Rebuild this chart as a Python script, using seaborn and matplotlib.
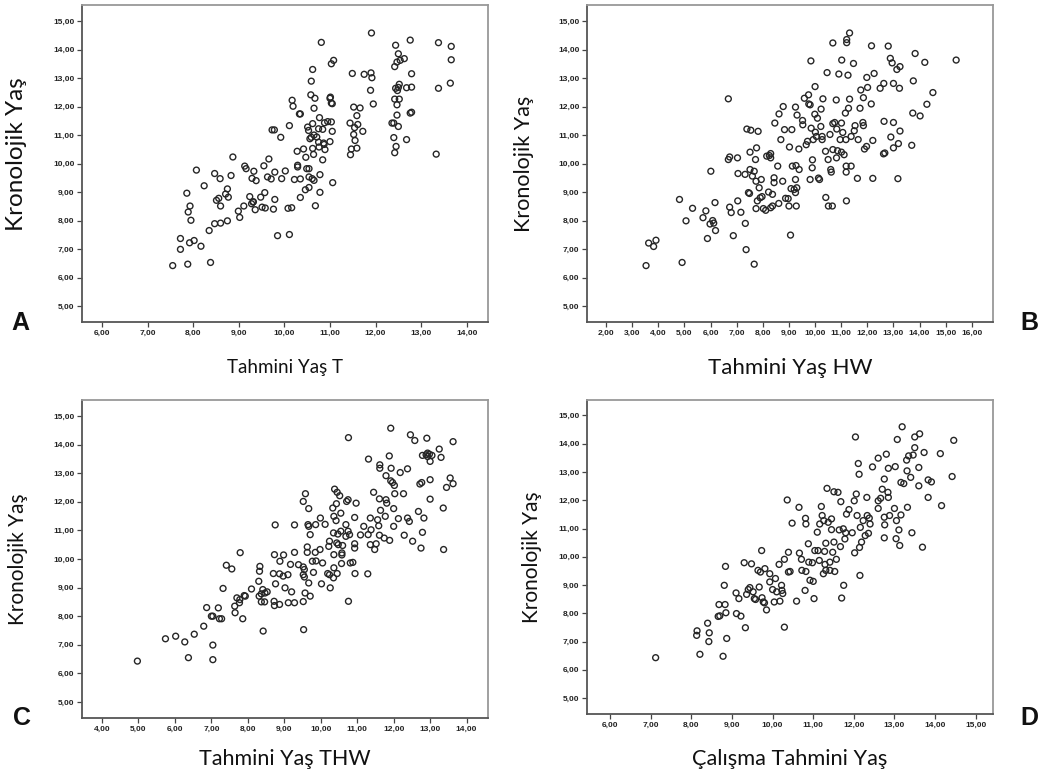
import matplotlib

matplotlib.use("Agg")

import matplotlib.pyplot as plt
import numpy as np
import pandas as pd
import seaborn as sns
from matplotlib.ticker import FuncFormatter, MultipleLocator

# --- panel A: Tahmini Yaş T vs Kronolojik Yaş ---
a_x = [7.55, 7.88, 8.38, 7.72, 7.72, 7.92, 8.02, 8.17, 8.35, 7.95, 7.89, 7.93, 7.86, 8.07,
       8.24, 8.47, 8.59, 8.83, 8.87, 8.51, 8.56, 8.60, 8.47, 8.60, 8.75, 8.75, 8.71, 8.77,
       8.99, 9.02, 9.11, 9.13, 9.16, 9.24, 9.28, 9.33, 9.29, 9.38, 9.32, 9.36, 9.48, 9.57,
       9.51, 9.58, 9.55, 9.66, 9.63, 9.71, 9.79, 10.02, 9.94, 9.79, 9.76, 9.85, 10.11, 10.08,
       10.16, 9.73, 9.78, 9.92, 10.11, 10.17, 10.19, 10.33, 10.35, 10.28, 10.22, 10.35, 10.35,
       10.29, 10.29, 10.42, 10.47, 10.49, 10.54, 10.51, 10.53, 10.56, 10.46, 10.54, 10.54,
       10.61, 10.59, 10.59, 10.62, 10.58, 10.67, 10.65, 10.62, 10.65, 10.62, 10.64, 10.65,
       10.68, 10.75, 10.71, 10.75, 10.76, 10.77, 10.81, 10.78, 10.78, 10.84, 10.86, 10.84,
       10.87, 10.88, 10.95, 11.00, 11.01, 11.03, 11.05, 11.03, 11.08, 11.03, 11.05, 11.00,
       11.06, 10.89, 9.31, 11.49, 11.52, 11.66, 11.59, 11.44, 11.61, 11.54, 11.72, 11.52,
       11.55, 11.47, 11.59, 11.45, 11.75, 11.90, 11.92, 11.91, 11.89, 11.95, 12.44, 12.76,
       12.50, 12.63, 12.54, 12.47, 12.42, 12.79, 12.52, 12.50, 12.44, 12.68, 12.79, 12.48,
       12.42, 12.52, 12.47, 12.76, 12.79, 12.47, 12.36, 12.40, 12.50, 12.40, 12.45, 12.68,
       12.42, 13.38, 13.66, 13.66, 13.64, 13.38, 13.33]
a_y = [6.42, 6.47, 6.53, 7.37, 6.99, 7.22, 7.30, 7.10, 7.65, 8.01, 8.30, 8.51, 8.96, 9.77,
       9.22, 9.65, 9.47, 9.58, 10.23, 8.71, 8.78, 8.51, 7.89, 7.91, 7.99, 9.11, 8.93, 8.82,
       8.33, 8.11, 8.51, 9.91, 9.82, 8.84, 8.59, 9.73, 9.48, 9.40, 8.66, 8.38, 8.82, 8.98,
       8.47, 8.44, 9.92, 10.16, 9.53, 9.46, 9.70, 9.74, 9.47, 8.74, 8.40, 7.47, 7.51, 8.43,
       8.45, 11.18, 11.18, 10.92, 11.33, 12.22, 12.01, 11.74, 11.74, 10.43, 9.44, 9.46, 8.81,
       9.94, 9.88, 10.51, 10.22, 9.82, 9.82, 11.28, 11.16, 10.87, 9.08, 9.16, 9.53,
       9.47, 10.92, 12.89, 13.30, 12.41, 12.29, 11.94, 11.40, 11.00, 10.53, 10.32, 9.41,
       8.52, 11.22, 10.93, 10.75, 10.58, 11.61, 14.25, 9.61, 8.99, 11.20, 10.72, 10.13,
       10.67, 11.43, 11.47, 12.29, 12.33, 12.12, 12.10, 13.50, 13.62, 11.46, 11.13, 10.77,
       9.33, 10.49, 8.65, 13.16, 11.98, 11.95, 11.68, 11.42, 11.37, 11.26, 11.13, 11.02,
       10.81, 10.51, 10.54, 10.31, 13.13, 13.18, 13.01, 14.58, 12.57, 12.09, 14.15, 14.33,
       13.85, 13.68, 13.62, 13.56, 13.40, 13.15, 12.78, 12.67, 12.64, 12.66, 12.68, 12.56,
       12.26, 12.26, 12.06, 11.77, 11.80, 11.70, 11.42, 11.42, 11.30, 10.91, 10.60, 10.84,
       10.38, 14.24, 14.11, 13.64, 12.82, 12.64, 10.33]

# --- panel B: Tahmini Yaş HW ---
b_x = [3.53, 3.63, 3.82, 3.91, 4.81, 4.91, 5.06, 5.31, 5.71, 5.82, 5.88, 5.98, 6.08, 6.12,
       6.19, 6.17, 6.01, 6.68, 6.68, 6.73, 6.73, 6.79, 6.87, 7.03, 7.05, 7.04, 7.16, 7.32,
       7.33, 7.36, 7.39, 7.54, 7.51, 7.45, 7.49, 7.51, 7.60, 7.67, 7.72, 7.76, 7.82, 7.74,
       7.86, 7.94, 7.79, 7.90, 7.97, 7.74, 8.02, 8.11, 7.67, 8.15, 8.25, 8.30, 8.30, 8.22,
       8.37, 8.30, 8.37, 8.43, 8.43, 8.46, 8.57, 8.62, 8.61, 8.69, 8.78, 8.83, 8.76, 8.87,
       8.97, 9.02, 9.11, 9.00, 9.06, 9.08, 9.13, 9.20, 9.25, 9.30, 9.25, 9.25, 9.31, 9.27,
       9.38, 9.39, 9.28, 9.52, 9.53, 9.59, 9.66, 9.71, 9.75, 9.76, 9.81, 9.84, 9.85, 9.81,
       9.89, 9.90, 9.93, 10.00, 9.99, 10.01, 10.09, 10.05, 10.13, 10.17, 10.22, 10.23, 10.27,
       10.27, 10.30, 10.40, 10.41, 10.46, 10.50, 10.51, 10.57, 10.60, 10.62, 10.66, 10.68,
       10.68, 10.75, 10.68, 10.81, 10.83, 10.82, 10.86, 10.91, 10.96, 11.02, 11.01, 11.06,
       11.01, 11.11, 11.16, 11.18, 11.19, 11.19, 11.20, 11.21, 11.21, 11.32, 11.26, 11.28,
       11.32, 11.38, 11.38, 11.47, 11.50, 11.53, 11.62, 11.65, 11.72, 11.75, 11.83, 11.85,
       11.85, 11.89, 11.97, 11.98, 12.01, 12.15, 12.16, 12.21, 12.21, 12.26, 12.49, 12.63,
       12.64, 12.67, 12.62, 12.80, 12.88, 12.95, 13.00, 13.00, 12.90, 13.00, 13.13, 13.25,
       13.23, 13.25, 13.19, 13.17, 13.70, 13.74, 13.76, 13.83, 14.02, 14.20, 14.28, 14.51,
       15.40]
b_y = [6.42, 7.21, 7.09, 7.31, 8.74, 6.53, 7.99, 8.43, 8.10, 8.34, 7.37, 7.88, 8.00, 7.91,
       7.65, 8.63, 9.73, 12.27, 10.14, 10.23, 8.47, 8.28, 7.47, 10.20, 9.65, 8.69, 8.29, 9.62,
       7.90, 6.98, 11.21, 11.17, 10.40, 8.98, 8.95, 9.79, 9.56, 9.73, 10.14, 10.55, 11.13, 9.38,
       9.15, 9.44, 8.69, 8.80, 8.84, 8.42, 8.42, 8.36, 6.47, 10.26, 10.28, 10.35, 10.20, 9.00,
       8.92, 8.45, 8.51, 9.50, 9.33, 11.42, 9.91, 11.74, 8.60, 10.84, 12.00, 11.19, 9.38, 8.78,
       8.77, 10.58, 11.19, 8.51, 7.49, 9.12, 9.91, 9.09, 8.98, 9.15, 9.44, 11.98, 11.70, 9.93,
       10.51, 9.79, 8.51, 11.51, 11.36, 12.29, 10.66, 10.78, 12.41, 12.09, 12.06, 13.60, 11.24,
       9.44, 9.85, 10.13, 10.84, 12.70, 11.73, 11.10, 11.59, 10.95, 9.49, 9.44, 11.30, 11.91,
       10.84, 10.95, 12.27, 10.43, 8.81, 13.19, 10.14, 8.51, 11.02, 9.79, 9.70, 8.51, 14.23,
       11.40, 11.44, 10.49, 12.23, 11.21, 10.20, 10.45, 13.14, 10.84, 13.63, 11.42, 11.09,
       10.40, 10.31, 11.77, 10.84, 9.91, 9.70, 8.69, 14.35, 14.24, 14.58, 13.10, 11.94,
       12.26, 9.91, 10.95, 13.51, 11.15, 11.33, 9.48, 10.84, 11.94, 12.58, 11.44, 11.33,
       12.31, 10.51, 10.60, 13.02, 12.67, 12.09, 14.13, 9.48, 10.81, 13.16, 12.64, 12.81,
       11.48, 10.37, 10.34, 14.12, 13.69, 13.53, 12.81, 11.44, 10.93, 10.55, 13.30, 13.40,
       12.64, 11.14, 10.70, 9.47, 10.64, 11.77, 12.90, 13.86, 11.67, 13.55, 12.08, 12.49,
       13.63]

# --- panel C: Tahmini Yaş THW ---
c_x = [4.97, 5.74, 6.02, 6.27, 6.37, 6.53, 6.79, 6.87, 7.00, 7.04, 7.04, 7.04, 7.19, 7.22,
       7.28, 7.32, 7.41, 7.56, 7.65, 7.64, 7.70, 7.77, 7.78, 7.86, 7.90, 7.93, 7.79, 8.10,
       8.30, 8.33, 8.32, 8.31, 8.37, 8.41, 8.37, 8.46, 8.47, 8.53, 8.42, 8.73, 8.75, 8.70,
       8.76, 8.72, 8.73, 8.88, 8.87, 8.87, 8.98, 8.97, 9.02, 9.10, 9.11, 9.17, 9.20, 9.28,
       9.28, 9.28, 9.39, 9.52, 9.55, 9.52, 9.55, 9.57, 9.52, 9.53, 9.52, 9.58, 9.67, 9.63,
       9.63, 9.67, 9.71, 9.65, 9.71, 9.67, 9.77, 9.80, 9.85, 9.86, 9.87, 9.99, 9.98, 10.02,
       10.05, 10.12, 10.24, 10.22, 10.19, 10.24, 10.26, 10.33, 10.36, 10.38, 10.35, 10.36,
       10.36, 10.35, 10.45, 10.52, 10.43, 10.42, 10.47, 10.44, 10.48, 10.45, 10.55, 10.55,
       10.60, 10.58, 10.58, 10.57, 10.69, 10.69, 10.75, 10.71, 10.75, 10.76, 10.76, 10.79,
       10.81, 10.88, 10.93, 10.93, 10.94, 10.93, 10.97, 11.09, 11.18, 11.30, 11.31, 11.29,
       11.36, 11.38, 11.36, 11.45, 11.48, 11.52, 11.56, 11.59, 11.62, 11.62, 11.61, 11.64,
       11.61, 11.74, 11.77, 11.79, 11.79, 11.81, 11.88, 11.89, 11.92, 11.93, 11.92, 11.97,
       12.02, 12.00, 12.00, 12.03, 12.13, 12.18, 12.27, 12.29, 12.38, 12.38, 12.43, 12.46,
       12.58, 12.52, 12.68, 12.72, 12.77, 12.75, 12.79, 12.79, 12.83, 12.89, 12.91, 12.93,
       12.93, 12.98, 13.00, 13.05, 13.00, 13.00, 13.25, 13.30, 13.36, 13.37, 13.45, 13.55,
       13.63, 13.63]
c_y = [6.43, 7.21, 7.30, 7.10, 6.55, 7.37, 7.65, 8.30, 8.00, 8.00, 6.99, 6.48, 8.29, 7.91,
       7.91, 8.97, 9.78, 9.65, 8.12, 8.35, 8.64, 8.47, 8.58, 7.91, 8.72, 8.70, 10.22, 8.95,
       9.22, 9.74, 9.57, 8.70, 8.78, 8.93, 8.50, 8.50, 8.81, 8.85, 7.48, 10.15, 11.19, 9.49,
       9.13, 8.52, 8.37, 9.92, 9.48, 8.41, 10.14, 9.40, 8.99, 9.45, 8.47, 9.81, 8.85, 8.47,
       10.23, 11.19, 9.80, 9.72, 9.63, 9.45, 9.37, 8.81, 8.51, 7.53, 12.01, 12.28, 11.76, 10.42,
       10.23, 9.16, 8.70, 11.20, 10.85, 11.14, 9.92, 9.53, 10.23, 11.20, 9.93, 11.43, 10.33, 9.13,
       9.86, 11.21, 10.62, 10.44, 9.49, 9.45, 8.99, 11.78, 11.49, 12.44, 10.91, 10.15,
       9.69, 9.34, 12.33, 12.21, 11.93, 11.34, 10.87, 10.56, 10.50, 9.49, 11.60, 10.97,
       10.47, 10.21, 10.14, 9.84, 10.79, 11.20, 10.97, 12.01, 12.07, 14.24, 8.52, 10.85,
       9.86, 9.88, 10.53, 10.38, 9.49, 11.45, 11.95, 10.84, 11.14, 10.85, 13.49, 9.48,
       11.43, 11.02, 10.50, 12.33, 10.33, 10.53, 11.37, 11.16, 13.29, 13.17, 12.10, 11.70,
       10.83, 10.73, 11.49, 12.91, 12.07, 11.95, 13.60, 10.65, 14.57, 13.17, 12.73, 12.67,
       12.57, 11.76, 11.14, 12.28, 11.41, 13.02, 12.28, 10.83, 13.15, 11.43, 11.31, 14.34,
       14.14, 10.62, 11.66, 12.62, 12.67, 10.38, 10.93, 13.62, 11.43, 13.64, 14.22, 13.70,
       13.58, 13.66, 13.41, 13.62, 12.77, 12.09, 13.84, 13.55, 11.78, 10.33, 12.50, 12.83,
       14.10, 12.63]

# --- panel D: Çalışma Tahmini Yaş ---
d_x = [7.12, 8.14, 8.13, 8.21, 8.40, 8.44, 8.43, 8.68, 8.66, 8.70, 8.78, 8.81, 8.84, 8.83,
       8.85, 8.87, 9.10, 9.11, 9.17, 9.22, 9.30, 9.33, 9.36, 9.40, 9.44, 9.48, 9.52, 9.55,
       9.58, 9.64, 9.67, 9.70, 9.73, 9.74, 9.77, 9.80, 9.81, 9.85, 9.93, 9.93, 10.00, 10.04,
       10.07, 10.10, 10.16, 10.18, 10.22, 10.23, 10.25, 10.29, 10.29, 10.36, 10.39, 10.39,
       10.43, 10.48, 10.59, 10.65, 10.66, 10.71, 10.72, 10.80, 10.81, 10.82, 10.88, 10.82,
       10.89, 10.92, 11.00, 11.02, 10.98, 11.04, 11.10, 11.12, 11.15, 11.16, 11.20, 11.22,
       11.25, 11.26, 11.28, 11.29, 11.31, 11.31, 11.34, 11.37, 11.41, 11.41, 11.45, 11.45,
       11.48, 11.51, 11.51, 11.53, 11.57, 11.61, 11.64, 11.67, 11.68, 11.70, 11.74, 11.75,
       11.78, 11.80, 11.82, 11.88, 11.96, 12.01, 12.02, 12.04, 12.06, 12.08, 12.11, 12.13,
       12.15, 12.14, 12.16, 12.19, 12.23, 12.28, 12.32, 12.33, 12.38, 12.36, 12.40, 12.46,
       12.60, 12.60, 12.60, 12.66, 12.70, 12.75, 12.76, 12.75, 12.75, 12.80, 12.85, 12.84,
       12.85, 12.88, 13.00, 13.02, 13.05, 13.04, 13.07, 13.11, 13.13, 13.16, 13.19, 13.16,
       13.23, 13.30, 13.31, 13.32, 13.35, 13.40, 13.46, 13.50, 13.50, 13.62, 13.60, 13.60,
       13.43, 13.69, 13.73, 13.83, 13.83, 13.91, 14.16, 14.13, 14.42, 14.46]
d_y = [6.43, 7.38, 7.22, 6.55, 7.65, 7.31, 7.00, 8.31, 7.89, 7.91, 6.48, 8.99, 9.66, 8.31,
       8.02, 7.11, 8.72, 7.99, 8.52, 7.90, 9.79, 7.49, 8.67, 8.84, 8.91, 9.75, 8.76, 8.52,
       8.49, 9.52, 8.93, 9.46, 10.22, 8.55, 8.40, 8.37, 9.58, 8.12, 9.40, 9.11, 8.84, 8.40,
       9.23, 8.76, 9.73, 8.43, 8.99, 8.81, 8.70, 9.91, 7.51, 12.01, 10.16, 9.46,
       9.48, 11.19, 8.43, 11.75, 10.13, 9.91, 9.52, 8.81, 11.36, 11.16, 10.46, 9.48,
       9.81, 9.17, 9.13, 8.52, 9.79, 10.22, 10.87, 10.22, 9.87, 11.16, 11.78, 11.46,
       9.40, 11.28, 10.19, 9.73, 10.48, 9.52, 12.42, 11.22, 9.81, 9.52, 11.34, 10.96,
       10.16, 12.30, 10.52, 9.48, 9.91, 12.28, 10.95, 10.36, 11.95, 8.54, 10.99, 8.99,
       10.63, 10.85, 11.51, 11.67, 10.85, 11.98, 10.14, 14.24, 12.22, 11.46, 13.30, 12.92,
       9.34, 10.33, 11.04, 10.52, 11.28, 10.75, 12.10, 11.46, 11.37, 10.83, 11.16, 13.18,
       13.49, 11.98, 11.71, 12.07, 12.39, 12.75, 11.13, 11.40, 10.67, 13.63, 13.13, 12.28,
       12.10, 11.46, 11.71, 13.19, 11.28, 10.64, 14.15, 10.95, 10.40, 12.63, 14.60, 11.48,
       12.59, 13.42, 13.04, 11.75, 13.57, 12.81, 13.60, 14.24, 13.86, 14.35, 13.16, 12.51,
       10.85, 10.34, 13.69, 12.10, 12.72, 12.65, 11.81, 13.65, 12.84, 14.12]

Y_LABEL = "Kronolojik Yaş"
Y_TICKS = [5, 6, 7, 8, 9, 10, 11, 12, 13, 14, 15]

panels = [
    # letter, x, y, xlabel, xlim, xticks, axes rect, xlabel size, ylabel size,
    # label coords (ylabel x, xlabel y, ylabel y), letter position
    ("A", a_x, a_y, "Tahmini Yaş T", (5.56, 14.46), range(6, 15),
     [0.0786, 0.585, 0.389, 0.4085], 13.5, 17.5, (-0.136, -0.118, 0.53), (0.020, 0.584)),
    ("B", b_x, b_y, "Tahmini Yaş HW", (1.27, 16.80), range(2, 17),
     [0.5628, 0.585, 0.389, 0.4085], 16, 15.5, (-0.131, -0.115, 0.5), (0.987, 0.584)),
    ("C", c_x, c_y, "Tahmini Yaş THW", (3.45, 14.58), range(4, 15),
     [0.0786, 0.0747, 0.389, 0.410], 15.5, 15, (-0.133, -0.098, 0.5), (0.021, 0.0747)),
    ("D", d_x, d_y, "Çalışma Tahmini Yaş", (5.43, 15.42), range(6, 16),
     [0.5628, 0.080, 0.389, 0.405], 15.7, 15, (-0.110, -0.112, 0.5), (0.987, 0.0747)),
]

sns.set_theme(style="white")
plt.rcParams["font.family"] = ["Lato", "DejaVu Sans"]

fig = plt.figure(figsize=(10.43, 7.76), dpi=100)
comma_fmt = FuncFormatter(lambda v, _: f"{v:.2f}".replace(".", ","))

for letter, xs, ys, xlabel, xlim, xticks, rect, xl_size, yl_size, lab_xy, let_xy in panels:
    ax = fig.add_axes(rect)
    data = pd.DataFrame({"x": xs, "y": ys})
    sns.scatterplot(data=data, x="x", y="y", ax=ax, s=18, marker="o",
                    facecolor="none", edgecolor="#262626", linewidth=1.0)
    ax.set_xlim(*xlim)
    ax.set_ylim(4.44, 15.56)
    ax.set_xticks(list(xticks))
    ax.set_yticks(Y_TICKS)
    ax.xaxis.set_major_formatter(comma_fmt)
    ax.yaxis.set_major_formatter(comma_fmt)
    ax.tick_params(axis="both", which="major", direction="out", length=3.5, width=0.9,
                   color="#444444", labelsize=6, pad=2, bottom=True, left=True)
    for lab in ax.get_xticklabels() + ax.get_yticklabels():
        lab.set_fontfamily(["Liberation Sans", "DejaVu Sans"])
        lab.set_fontweight("bold")
        lab.set_color("#222222")
    for side in ("left", "bottom"):
        ax.spines[side].set_color("#555555")
        ax.spines[side].set_linewidth(1.3)
    for side in ("top", "right"):
        ax.spines[side].set_color("#999999")
        ax.spines[side].set_linewidth(1.3)
    ax.set_xlabel(xlabel, fontsize=xl_size, color="#111111")
    ax.set_ylabel(Y_LABEL, fontsize=yl_size, color="#111111")
    ax.xaxis.set_label_coords(0.5, lab_xy[1])
    ax.yaxis.set_label_coords(lab_xy[0], lab_xy[2])
    fig.text(let_xy[0], let_xy[1], letter, fontsize=18, fontweight="heavy",
             family=["Liberation Sans", "DejaVu Sans"], ha="center", va="center",
             color="#111111")

fig.savefig("out.png", dpi=100)
plt.close(fig)
